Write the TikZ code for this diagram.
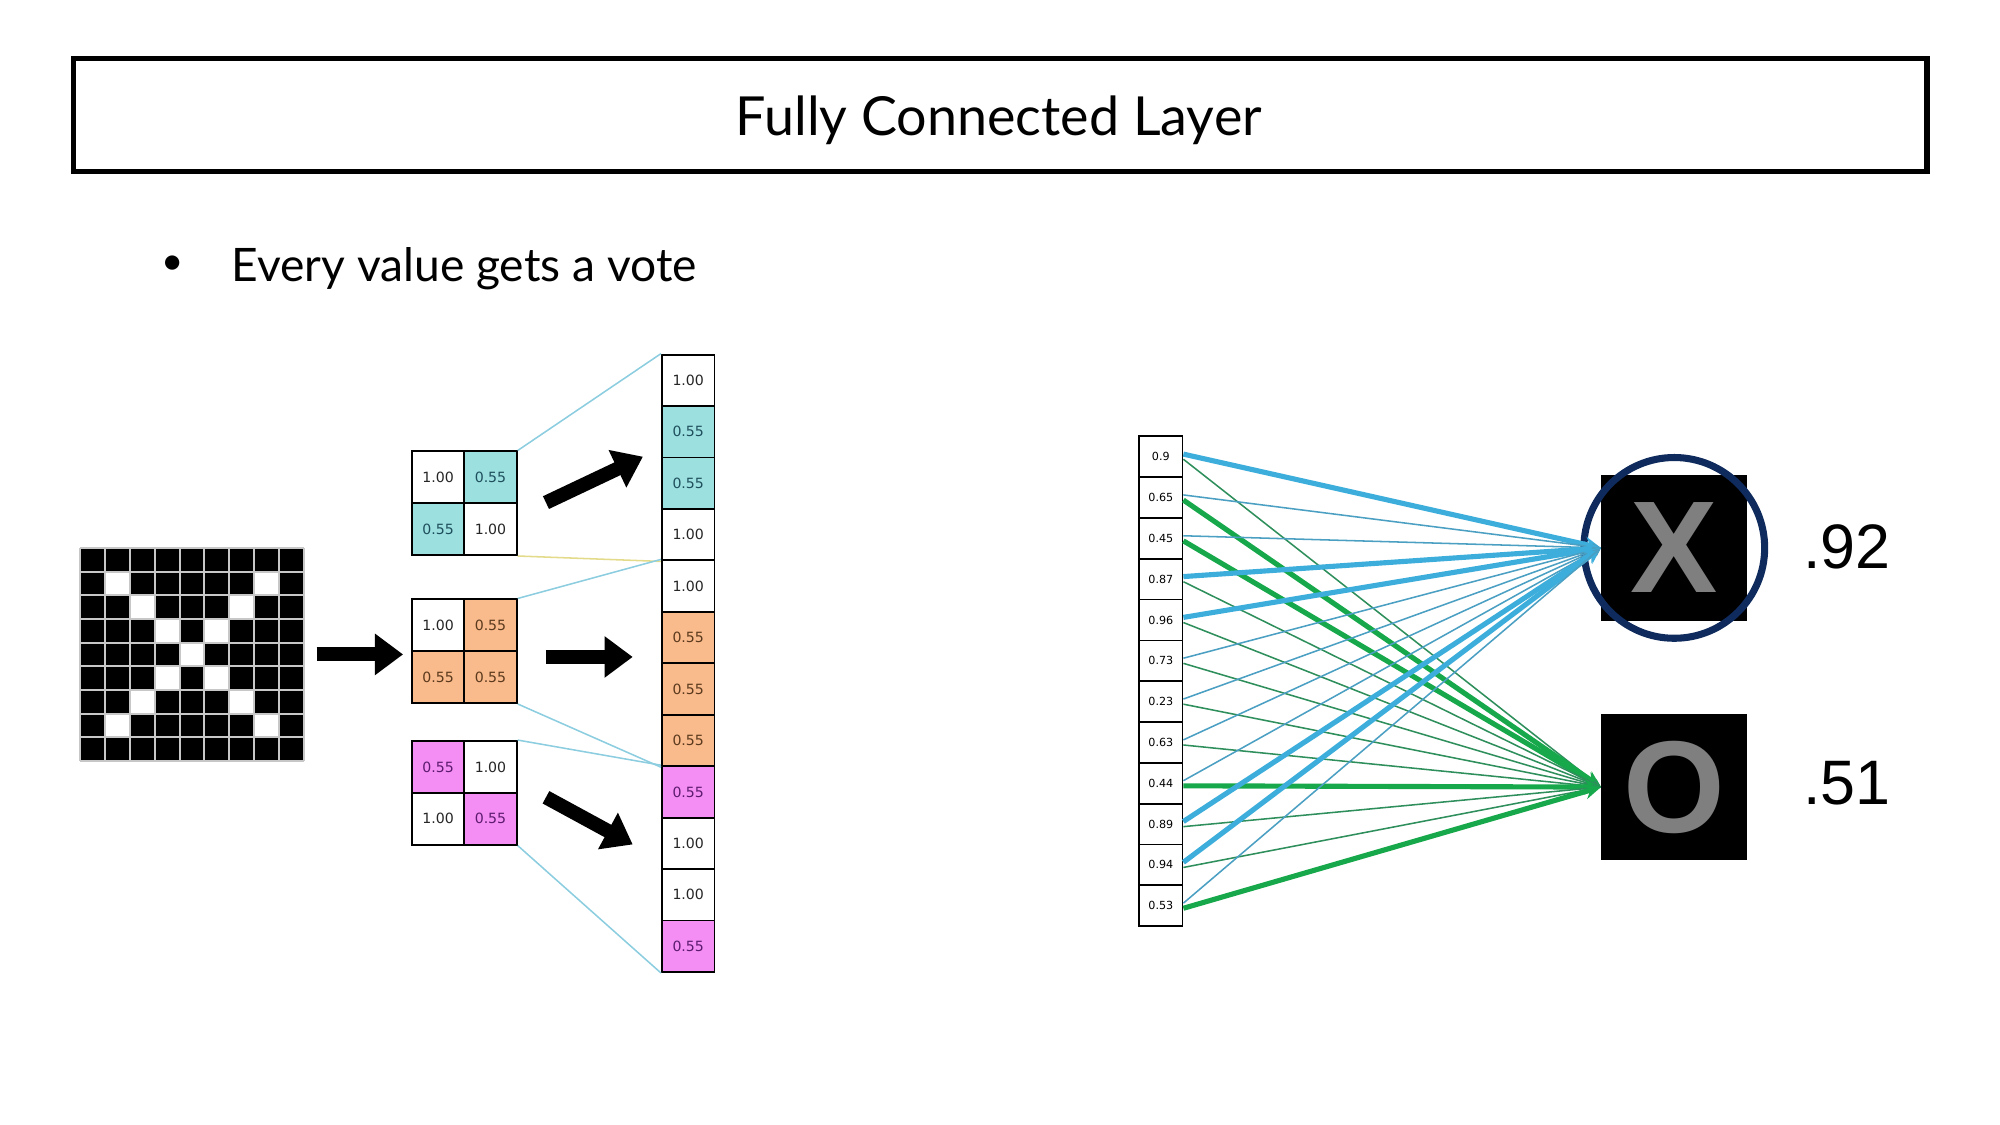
\documentclass[tikz,border=0pt]{standalone}
\usepackage{fontspec}
\setmainfont{Lato}
\newfontfamily\cellfont{DejaVu Sans}
\newfontfamily\arialfont{Liberation Sans}
\usetikzlibrary{arrows.meta}
\usetikzlibrary{positioning}
\definecolor{mcyan}{HTML}{9CE0E0}
\definecolor{mcyantext}{HTML}{1F4F5C}
\definecolor{morange}{HTML}{F9BA8C}
\definecolor{morangetext}{HTML}{5B3A1D}
\definecolor{mpink}{HTML}{F48EF4}
\definecolor{mpinktext}{HTML}{5C1B6E}
\definecolor{mblue}{HTML}{3DAEDB}
\definecolor{mbluethin}{HTML}{4A9FC2}
\definecolor{mgreen}{HTML}{16A84A}
\definecolor{mgreenthin}{HTML}{2E8F5C}
\definecolor{mnavy}{HTML}{0F2A5C}
\definecolor{mgray}{HTML}{7F7F7F}
\definecolor{mline}{HTML}{8CCDE0}
\definecolor{myellow}{HTML}{E3DB8A}
\tikzset{cell/.style = {draw, line width=1.5pt, minimum width=41pt, minimum height=40.5pt, inner sep=0,
    font=\cellfont\fontsize{11}{11}\selectfont}}
\tikzset{wt/.style = {fill=white, text=black!85}}
\tikzset{cy/.style = {fill=mcyan, text=mcyantext}}
\tikzset{or/.style = {fill=morange, text=morangetext}}
\tikzset{pk/.style = {fill=mpink, text=mpinktext}}
\tikzset{vcell/.style = {draw, line width=1.2pt, minimum width=34pt, minimum height=32pt, inner sep=0,
    font=\cellfont\fontsize{8.7}{8.7}\selectfont}}
\tikzset{gridline/.style = {draw=black!22, line width=1.6pt}}
\tikzset{bigarrow/.style = {line width=11pt, -{Triangle[length=22pt, width=31pt]}}}
\tikzset{wire/.style = {-{Stealth[length=4pt 2.2, width=3pt 2.2]}}}
\tikzset{outbox/.style = {fill=black, minimum size=114pt, inner sep=0, text=mgray,
    font=\arialfont\bfseries\fontsize{102}{102}\selectfont}}

\begin{document}
\begin{tikzpicture}[x=0.995pt, y=-0.995pt]
      \useasboundingbox (0,0) rectangle (1567.84,881.91);

      \node [draw, line width=4pt, minimum width=1446pt, minimum height=88pt] (title) at (784,90) {};
      \node [font=\fontsize{42}{50}\selectfont, anchor=base] (heading) at (783,106) {Fully Connected Layer};
      \node [font=\fontsize{30}{36}\selectfont] (dot) at (135,208) {\textbullet};
      \node [font=\fontsize{36}{43}\selectfont, anchor=base west] (vote) at (178,221) {Every value gets a vote};

      % the X picture
      \node [fill=black, minimum width=174pt, minimum height=166pt, inner sep=0] (grid) at (150.5,513) {};
      \foreach \r/\c in {1/1,1/7,2/2,2/6,3/3,3/5,4/4,5/3,5/5,6/2,6/6,7/1,7/7} {
        \fill [white] (63+\c*19.444, 429.5+\r*18.556) rectangle +(19.444,18.556);
      }
      \foreach \k in {0,...,9} {
        \draw [gridline] (63+\k*19.444, 429.5) -- +(0,167);
        \draw [gridline] (63, 429.5+\k*18.556) -- +(175,0);
      }

      \foreach \n/\y/\sa/\sb/\sc/\sd/\va/\vb/\vc/\vd in {
        1/354/wt/cy/cy/wt/1.00/0.55/0.55/1.00,
        2/470/wt/or/or/or/1.00/0.55/0.55/0.55,
        3/581/pk/wt/wt/pk/0.55/1.00/1.00/0.55} {
        \node [cell, \sa] (m\n-a) at (343.5,\y+20.25) {\va};
        \node [cell, \sb] (m\n-b) at (384.5,\y+20.25) {\vb};
        \node [cell, \sc] (m\n-c) at (343.5,\y+60.75) {\vc};
        \node [cell, \sd] (m\n-d) at (384.5,\y+60.75) {\vd};
      }

      \foreach \i/\s/\v in {1/wt/1.00, 2/cy/0.55, 3/cy/0.55, 4/wt/1.00, 5/wt/1.00, 6/or/0.55,
        7/or/0.55, 8/or/0.55, 9/pk/0.55, 10/wt/1.00, 11/wt/1.00, 12/pk/0.55} {
        \node [cell, minimum height=40.2pt, \s] (c\i) at (539.5, 257.83+40.33*\i) {\v};
      }

      \draw [mline, line width=1.2pt] (m1-b.north east) -- (c1.north west);
      \draw [myellow, line width=1.2pt] (m1-d.south east) -- (c4.south west);
      \draw [mline, line width=1.2pt] (m2-b.north east) -- (c5.north west);
      \draw [mline, line width=1.2pt] (m2-d.south east) -- (c8.south west);
      \draw [mline, line width=1.2pt] (m3-b.north east) -- (c9.north west);
      \draw [mline, line width=1.2pt] (m3-d.south east) -- (c12.south west);

      \coordinate (b1) at (316,513);
      \coordinate (a2) at (428,394);
      \coordinate (b2) at (504,358);
      \coordinate (a3) at (428,515);
      \coordinate (b3) at (496,515);
      \coordinate (a4) at (428,625);
      \coordinate (b4) at (496,662);
      \draw [bigarrow] ([xshift=10pt]grid.east) -- (b1);
      \foreach \k in {2,3,4} {
        \draw [bigarrow] (a\k) -- (b\k);
      }

      % flattened values and the votes
      \foreach \i/\v in {1/0.9, 2/0.65, 3/0.45, 4/0.87, 5/0.96, 6/0.73, 7/0.23, 8/0.63,
        9/0.44, 10/0.89, 11/0.94, 12/0.53} {
        \node [vcell] (v\i) at (910, 326+32*\i) {\v};
      }

      \node [outbox] (xbox) at (1312.5,429.5) {X};
      \node [outbox] (obox) at (1312.5,617) {O};
      \node [circle, draw=mnavy, line width=5.5pt, minimum size=141pt, inner sep=0] (ring) at (xbox) {};

      \foreach \i/\w/\c in {1/1.2/mgreenthin, 2/4/mgreen, 3/4/mgreen, 4/1.2/mgreenthin,
        5/1.2/mgreenthin, 6/1.2/mgreenthin, 7/1.2/mgreenthin, 8/1.2/mgreenthin,
        9/4/mgreen, 10/1.2/mgreenthin, 11/1.2/mgreenthin, 12/4/mgreen} {
        \draw [wire, \c, line width=\w pt] ([yshift=-2pt]v\i.east) -- (obox.west);
      }
      \foreach \i/\w/\c in {1/4/mblue, 2/1.2/mbluethin, 3/1.2/mbluethin, 4/4/mblue,
        5/4/mblue, 6/1.2/mbluethin, 7/1.2/mbluethin, 8/1.2/mbluethin,
        9/1.2/mbluethin, 10/4/mblue, 11/4/mblue, 12/1.2/mbluethin} {
        \draw [wire, \c, line width=\w pt] ([yshift=2pt]v\i.east) -- (xbox.west);
      }

      \node [font=\arialfont\fontsize{49}{49}\selectfont, anchor=base west] (px) at (1410,446) {.92};
      \node [font=\arialfont\fontsize{49}{49}\selectfont, anchor=base west] (po) at (1410,631) {.51};
    \end{tikzpicture}
\end{document}
